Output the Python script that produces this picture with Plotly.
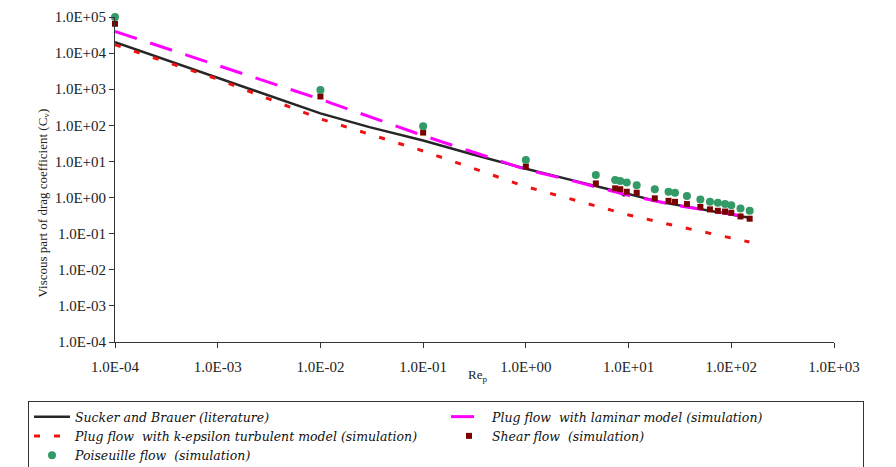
import plotly.graph_objects as go

# ---------------- data ----------------
re_sb = [1e-4, 1e-3, 1e-2, 3e-2, 1e-1, 3e-1, 1, 3, 8, 9, 10, 20, 50, 100, 150]
cv_sb = [2.0e4, 2.1e3, 214, 89, 38, 15.8, 6.3, 2.9, 1.45, 1.15, 1.25, 0.76, 0.48, 0.35, 0.275]

re_lam = [1e-4, 1e-3, 1e-2, 1e-1, 0.3, 1, 3, 10, 30, 100, 150]
cv_lam = [4.0e4, 4.6e3, 525, 52, 19, 6.0, 2.8, 1.15, 0.60, 0.35, 0.27]

re_keps = [1e-4, 1e-3, 1e-2, 1e-1, 1, 3, 10, 30, 100, 150]
cv_keps = [1.7e4, 1.9e3, 151, 19.5, 2.0, 0.85, 0.33, 0.16, 0.074, 0.059]

re_sim = [1e-4, 1e-2, 1e-1, 1, 4.8, 7.4, 8.3, 9.6, 12, 18, 24.5, 28.3, 37, 50, 62, 74, 87, 100, 123, 151]
cv_shear = [6.5e4, 630, 63, 7.2, 2.46, 1.8, 1.7, 1.45, 1.36, 0.95, 0.81, 0.76, 0.66, 0.55,
            0.47, 0.43, 0.41, 0.38, 0.30, 0.26]
cv_pois = [1.0e5, 950, 95, 11, 4.2, 3.05, 2.88, 2.63, 2.2, 1.69, 1.45, 1.36, 1.1, 0.89,
           0.76, 0.72, 0.66, 0.61, 0.50, 0.43]

x_tickvals = [1e-4, 1e-3, 1e-2, 1e-1, 1e0, 1e1, 1e2, 1e3]
x_ticktext = ["1.0E-04", "1.0E-03", "1.0E-02", "1.0E-01", "1.0E+00", "1.0E+01", "1.0E+02", "1.0E+03"]
y_tickvals = [1e-4, 1e-3, 1e-2, 1e-1, 1e0, 1e1, 1e2, 1e3, 1e4, 1e5]
y_ticktext = ["1.0E-04", "1.0E-03", "1.0E-02", "1.0E-01", "1.0E+00", "1.0E+01", "1.0E+02",
              "1.0E+03", "1.0E+04", "1.0E+05"]

SERIF = "Liberation Serif, Times New Roman, serif"

fig = go.Figure()
fig.add_trace(go.Scatter(x=re_sb, y=cv_sb, mode="lines", name="<i>Sucker and Brauer (literature)</i>",
                         line=dict(color="#262626", width=2.5)))
fig.add_trace(go.Scatter(x=re_lam, y=cv_lam, mode="lines",
                         name="<i>Plug flow  with laminar model (simulation)</i>",
                         line=dict(color="#ff00ff", width=3, dash="23px,14px")))
fig.add_trace(go.Scatter(x=re_keps, y=cv_keps, mode="lines",
                         name="<i>Plug flow  with k-epsilon turbulent model (simulation)</i>",
                         line=dict(color="#ee1111", width=3, dash="6px,14px")))
fig.add_trace(go.Scatter(x=re_sim, y=cv_shear, mode="markers", name="<i>Shear flow  (simulation)</i>",
                         marker=dict(symbol="square", size=6, color="#7a0000"), cliponaxis=False))
fig.add_trace(go.Scatter(x=re_sim, y=cv_pois, mode="markers", name="<i>Poiseuille flow  (simulation)</i>",
                         marker=dict(symbol="circle", size=8, color="#339966"), cliponaxis=False))

axis_common = dict(showgrid=False, zeroline=False, showline=True, linecolor="#333333", linewidth=1,
                   ticks="outside", ticklen=5, tickcolor="#333333", mirror=False,
                   tickfont=dict(family=SERIF, size=15, color="#222222"))

fig.update_xaxes(type="log", range=[-4, 3], tickvals=x_tickvals, ticktext=x_ticktext,
                 ticklabelstandoff=6, **axis_common)
fig.update_yaxes(type="log", range=[-4, 5], tickvals=y_tickvals, ticktext=y_ticktext, **axis_common)

fig.add_annotation(text="Viscous part of drag coefficient (C<sub>v</sub>)", textangle=-90,
                   xref="paper", yref="paper", x=(32 - 115) / 719, y=(342 - 203) / 325,
                   showarrow=False, font=dict(family=SERIF, size=13, color="#222222"))
fig.add_annotation(text="Re<sub>p</sub>", xref="paper", yref="paper",
                   x=(477 - 115) / 719, y=(342 - 386) / 325, showarrow=False,
                   font=dict(family=SERIF, size=13, color="#222222"))

fig.update_layout(
    width=896, height=467,
    margin=dict(l=115, r=62, t=17, b=125, autoexpand=False),
    paper_bgcolor="white", plot_bgcolor="white",
    showlegend=True,
    legend=dict(orientation="h", x=(28 - 115) / 719, y=(342 - 401) / 325,
                xanchor="left", yanchor="top",
                bordercolor="#333333", borderwidth=1, bgcolor="white",
                font=dict(family="DejaVu Serif, serif", size=12.5, color="#111111"),
                itemwidth=36, entrywidth=366, entrywidthmode="pixels",
                tracegroupgap=0, traceorder="normal"),
)

fig.write_html("out.html")
